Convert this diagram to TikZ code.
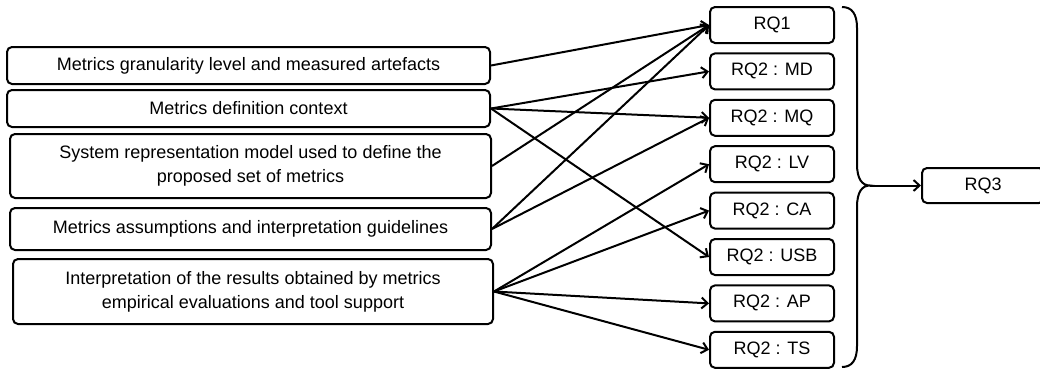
\documentclass[tikz,border=0pt]{standalone}
\usepackage{fontspec}
\setmainfont{Liberation Sans}
\usetikzlibrary{arrows.meta}
\begin{document}
\begin{tikzpicture}[x=1pt,y=-1pt,
 box/.style={draw, line width=2pt, rounded corners=5pt, align=center, inner sep=0pt, font=\fontsize{18}{24}\selectfont},
 rq/.style={box, minimum width=124pt, minimum height=36pt},
 arr/.style={line width=2pt, -{Straight Barb[length=6pt,width=11pt]}}]
\useasboundingbox (0,0) rectangle (1040,372);
\node[box, minimum width=483pt, minimum height=37pt] (L1) at (248.5,65.5) {Metrics granularity level and measured artefacts};
\node[box, minimum width=483pt, minimum height=37pt] (L2) at (248.5,108.5) {Metrics definition context};
\node[box, minimum width=481pt, minimum height=64pt] (L3) at (250.5,166) {System representation model used to define the\\proposed set of metrics};
\node[box, minimum width=481pt, minimum height=42pt] (L4) at (250.5,229) {Metrics assumptions and interpretation guidelines};
\node[box, minimum width=480pt, minimum height=65pt] (L5) at (253,291.5) {Interpretation of the results obtained by metrics\\empirical evaluations and tool support};

\node[rq] (RQ1) at (772,25) {RQ1};
\node[rq] (MD) at (772,71.4) {RQ2 : MD};
\node[rq] (MQ) at (772,117.8) {RQ2 : MQ};
\node[rq] (LV) at (772,164.2) {RQ2 : LV};
\node[rq] (CA) at (772,210.6) {RQ2 : CA};
\node[rq] (USB) at (772,257) {RQ2 : USB};
\node[rq] (AP) at (772,303.4) {RQ2 : AP};
\node[rq] (TS) at (772,349.8) {RQ2 : TS};

\node[box, minimum width=122pt, minimum height=35pt] (RQ3) at (983,185.5) {RQ3};

\draw[arr] (L1.east) -- (RQ1.west);
\draw[arr] (L2.east) -- (MD.west);
\draw[arr] (L2.east) -- (MQ.west);
\draw[arr] (L2.east) -- (USB.west);
\draw[arr] (L3.east) -- (RQ1.west);
\draw[arr] (L4.east) -- (RQ1.west);
\draw[arr] (L4.east) -- (MQ.west);
\draw[arr] (L5.east) -- (LV.west);
\draw[arr] (L5.east) -- (CA.west);
\draw[arr] (L5.east) -- (AP.west);
\draw[arr] (L5.east) -- (TS.west);

\coordinate (tip) at (870,185.5);
\draw[line width=2pt] (842,7) .. controls (852,7) and (857,14) .. (857,28) -- (857,164) .. controls (857,179) and (862,185.5) .. (tip) .. controls (862,185.5) and (857,192) .. (857,207) -- (857,346) .. controls (857,360) and (852,367) .. (842,367);
\draw[arr] (tip) -- (RQ3.west);
\end{tikzpicture}
\end{document}
